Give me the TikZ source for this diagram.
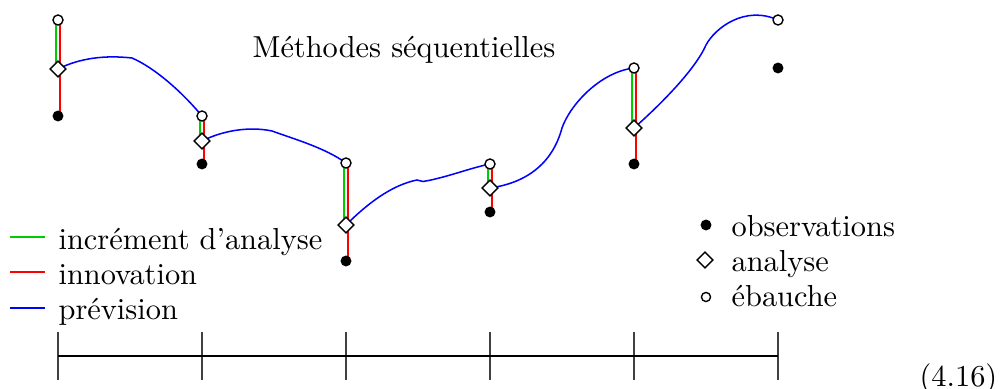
\documentclass[tikz,border=0pt]{standalone}
\usetikzlibrary{shapes.geometric}
\definecolor{incrgreen}{RGB}{0,205,0}
\begin{document}
\begin{tikzpicture}[x=0.329pt,y=-0.329pt,
  ebauche/.style={circle,draw,fill=white,inner sep=0pt,minimum size=3.3pt,line width=0.45pt},
  analyse/.style={diamond,draw,fill=white,inner sep=0pt,minimum size=5.4pt,line width=0.5pt},
  obs/.style={circle,fill=black,inner sep=0pt,minimum size=3.6pt},
  incr/.style={draw=incrgreen,line width=0.7pt},
  innov/.style={draw=red,line width=0.7pt},
  prev/.style={draw=blue,line width=0.5pt},
  lab/.style={inner sep=0pt,anchor=base west},
  axisline/.style={line width=0.65pt},
  tick/.style={line width=0.45pt,draw=black!75}]
\useasboundingbox (0,0) rectangle (1003,389);

% positions
\coordinate (E1) at (58,20);  \coordinate (A1) at (58,69);  \coordinate (O1) at (58,116);
\coordinate (E2) at (202,116); \coordinate (A2) at (202,141); \coordinate (O2) at (202,164);
\coordinate (E3) at (346,163); \coordinate (A3) at (346,225); \coordinate (O3) at (346,261);
\coordinate (E4) at (490,164); \coordinate (A4) at (490,188); \coordinate (O4) at (490,212);
\coordinate (E5) at (634,68);  \coordinate (A5) at (634,128); \coordinate (O5) at (634,164);
\coordinate (E6) at (778,20);  \coordinate (O6) at (778,68);

% innovation and increment bars
\foreach \i in {1,...,5}{
  \draw[innov] ([xshift=0.7pt]E\i) -- ([xshift=0.7pt]O\i);
  \draw[incr] ([xshift=-0.7pt]E\i) -- ([xshift=-0.7pt]A\i);
}

% forecasts
\draw[prev] (A1) .. controls (80,58) and (105,55) .. (132,58)
  .. controls (155,68) and (182,92) .. (E2);
\draw[prev] (A2) .. controls (222,131) and (248,126) .. (272,131)
  .. controls (297,140) and (325,148) .. (E3);
\draw[prev] (A3) .. controls (368,203) and (392,185) .. (417,180) -- (423,181.5)
  .. controls (445,178) and (470,168) .. (E4);
\draw[prev] (A4) .. controls (525,183) and (552,165) .. (562,128)
  .. controls (570,105) and (600,72) .. (E5);
\draw[prev] (A5) .. controls (660,105) and (695,70) .. (706,45)
  .. controls (715,28) and (745,5) .. (E6);

% markers
\foreach \i in {1,...,6}{
  \node[obs] (o\i) at (O\i) {};
  \node[ebauche] (e\i) at (E\i) {};
}
\foreach \i in {1,...,5}{
  \node[analyse] (a\i) at (A\i) {};
}

% title
\node[inner sep=0pt,anchor=base] (title) at (404,58) {Méthodes séquentielles};

% left legend
\coordinate (lg1a) at (10,237); \coordinate (lg1b) at (45,237);
\coordinate (lg2a) at (10,272); \coordinate (lg2b) at (45,272);
\coordinate (lg3a) at (10,308); \coordinate (lg3b) at (45,308);
\draw[incr] (lg1a) -- (lg1b);
\draw[innov] (lg2a) -- (lg2b);
\draw[prev] (lg3a) -- (lg3b);
\node[lab] (t1) at (58,250) {incrément d'analyse};
\node[lab] (t2) at (58,285) {innovation};
\node[lab] (t3) at (58,320) {prévision};

% right legend
\node[obs] (s1) at (706,225) {};
\node[analyse] (s2) at (705,260) {};
\node[ebauche,minimum size=3pt] (s3) at (706,297) {};
\node[lab] (r1) at (731,237) {observations};
\node[lab] (r2) at (731,272) {analyse};
\node[lab] (r3) at (731,307) {ébauche};

% time axis
\foreach \k/\x in {0/58,1/202,2/346,3/490,4/634,5/778}{
  \coordinate (tt\k) at (\x,332);
  \coordinate (tb\k) at (\x,380);
  \coordinate (tm\k) at (\x,356);
  \draw[tick] (tt\k) -- (tb\k);
}
\draw[axisline] (tm0) -- (tm5);

% equation number
\node[lab] (eq) at (919,386) {(4.16)};
\end{tikzpicture}
\end{document}
